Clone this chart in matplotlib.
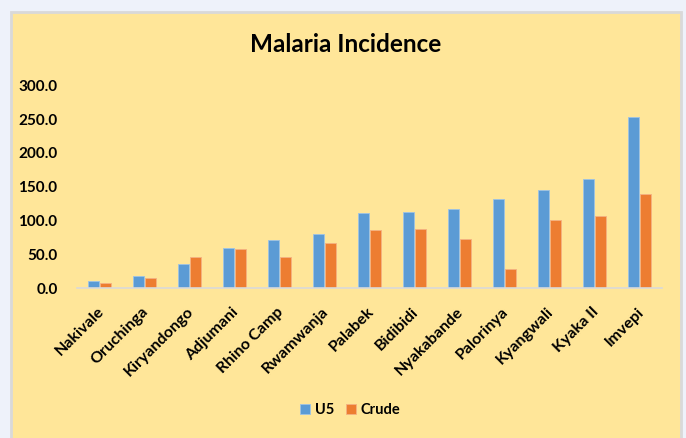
import matplotlib.pyplot as plt
import matplotlib.transforms as mtransforms
import numpy as np
from matplotlib.patches import Rectangle

plt.rcParams['font.family'] = ['Lato', 'DejaVu Sans']

sites = ['Nakivale', 'Oruchinga', 'Kiryandongo', 'Adjumani', 'Rhino Camp', 'Rwamwanja',
         'Palabek', 'Bidibidi', 'Nyakabande', 'Palorinya', 'Kyangwali', 'Kyaka II', 'Imvepi']
u5 = [10.8, 17.7, 35.9, 59.5, 70.9, 79.8, 111.7, 113.2, 117.6, 131.5, 145.2, 161.0, 253.5]
crude = [7.8, 14.8, 45.8, 58.0, 45.8, 66.9, 86.1, 87.6, 72.4, 28.5, 100.4, 106.3, 139.8]

fig = plt.figure(figsize=(6.86, 4.38), dpi=100)
fig.patch.set_facecolor('#EEF2FA')
# chart area box
fig.patches.append(Rectangle((11/686, -0.05), 670/686, 1 - 12/438 + 0.05,
                             transform=fig.transFigure, facecolor='#FFE699',
                             edgecolor='#D9D9D9', linewidth=2, zorder=0))

ax = fig.add_axes([77/686, 1 - 288/438, 585/686, (288 - 85.3)/438])
ax.patch.set_alpha(0)
ax.set_zorder(2)

x = np.arange(len(sites))
w = 0.24
ax.bar(x - w/2 - 0.02, u5, w, color='#5B9BD5', edgecolor='#9DC3E6', linewidth=0.6, label='U5')
ax.bar(x + w/2 + 0.02, crude, w, color='#ED7D31', edgecolor='#F4B183', linewidth=0.6, label='Crude')

ax.set_xlim(-0.5, len(sites) - 0.5)
ax.set_ylim(0, 300)
ax.set_yticks(np.arange(0, 301, 50))
ax.set_yticklabels(['%.1f' % v for v in np.arange(0, 301, 50)], fontsize=11, fontweight='bold')
ax.set_xticks(x)
ax.set_xticklabels(sites, rotation=45, ha='right', rotation_mode='anchor',
                   fontsize=11.5, fontweight='bold')
ax.tick_params(axis='y', length=0, pad=14)
ax.tick_params(axis='x', length=0, pad=12)
# nudge rotated labels a little to the left
shift = mtransforms.ScaledTranslation(-3/100, 0, fig.dpi_scale_trans)
for lbl in ax.get_xticklabels():
    lbl.set_transform(lbl.get_transform() + shift)
for s in ['top', 'right', 'left']:
    ax.spines[s].set_visible(False)
ax.spines['bottom'].set_color('#D9D9D9')
ax.spines['bottom'].set_linewidth(1.2)

fig.text(346/686, 1 - 45/438, 'Malaria Incidence', ha='center', va='center',
         fontsize=17.5, fontweight='bold', zorder=3)

leg = fig.legend(loc='center', bbox_to_anchor=(350/686, 1 - 410/438), ncol=2, frameon=False,
                 prop={'size': 10.5, 'weight': 'bold'}, handlelength=0.7, handleheight=0.7,
                 handletextpad=0.3, columnspacing=0.8)
leg.set_zorder(3)

fig.savefig('out.png', dpi=100, facecolor=fig.get_facecolor())
